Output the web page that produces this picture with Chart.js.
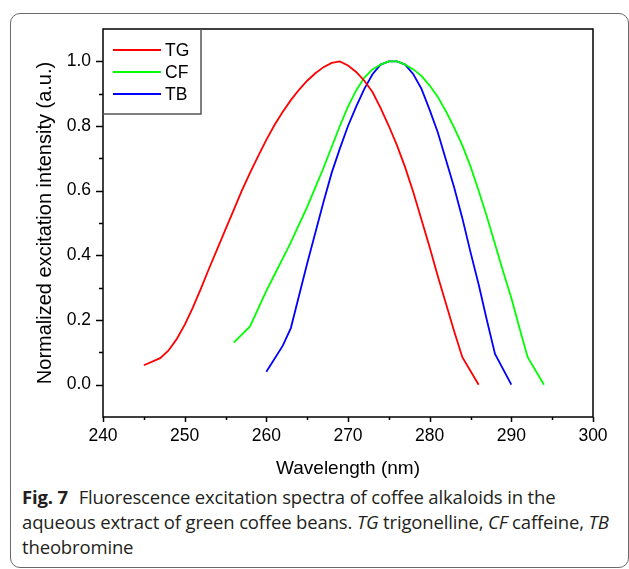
<!DOCTYPE html>
<html>
<head>
<meta charset="utf-8">
<script src="https://cdn.jsdelivr.net/npm/chart.js@4/dist/chart.umd.min.js"></script>
<style>
  body { margin: 0; background: #fff; width: 629px; height: 569px; overflow: hidden; position: relative; }
  #frame { position: absolute; left: 10px; top: 13px; width: 617px; height: 553px;
           border: 1.3px solid #6a6a6a; border-radius: 10px; }
  #chartBox { position: absolute; left: 0; top: 0; }
  #caption { position: absolute; left: 22px; top: 484px; width: 620px;
             font-family: "Open Sans", "Noto Sans", sans-serif; font-size: 18.5px;
             line-height: 25px; color: #231f20; letter-spacing: -0.15px; white-space: nowrap; }
  #caption b { font-weight: 700; margin-right: 6px; }
</style>
</head>
<body>
<div id="frame"></div>
<canvas id="chartBox" width="629" height="480"></canvas>
<div id="caption"><b>Fig. 7</b> Fluorescence excitation spectra of coffee alkaloids in the<br>aqueous extract of green coffee beans. <i>TG</i> trigonelline, <i>CF</i> caffeine, <i>TB</i><br>theobromine</div>

<script>
//############################
//######    Data     ########
//############################

const seriesNames = ["TG", "CF", "TB"];
const seriesColors = ["#ff0000", "#00ff00", "#0000ff"];

// trigonelline
const tgWave = [245, 247, 248, 249, 250, 251, 252, 253, 254, 255, 256, 257, 258, 259, 260,
  261, 262, 263, 264, 265, 266, 267, 268, 269, 270, 271, 272, 273, 274, 275, 276, 277,
  278, 279, 280, 281, 282, 283, 284, 286];
const tgInt = [0.06, 0.082, 0.105, 0.14, 0.185, 0.238, 0.298, 0.36, 0.42, 0.48, 0.54,
  0.60, 0.655, 0.707, 0.757, 0.803, 0.843, 0.88, 0.912, 0.94, 0.963, 0.982, 0.995, 1.0,
  0.987, 0.967, 0.94, 0.905, 0.855, 0.80, 0.74, 0.672, 0.595, 0.51, 0.425, 0.335, 0.25,
  0.165, 0.085, 0.0];

// caffeine
const cfWave = [256, 258, 259, 260, 261, 262, 263, 264, 265, 266, 267, 268, 269, 270, 271,
  272, 273, 274, 275, 276, 277, 278, 279, 280, 281, 282, 283, 284, 285, 286, 287, 288,
  289, 290, 291, 292, 294];
const cfInt = [0.13, 0.18, 0.235, 0.29, 0.34, 0.39, 0.44, 0.495, 0.55, 0.61, 0.67, 0.735,
  0.80, 0.86, 0.91, 0.95, 0.975, 0.99, 1.0, 1.0, 0.99, 0.975, 0.955, 0.925, 0.89, 0.845,
  0.795, 0.74, 0.675, 0.60, 0.52, 0.435, 0.35, 0.268, 0.175, 0.085, 0.0];

// theobromine
const tbWave = [260, 262, 263, 264, 265, 266, 267, 268, 269, 270, 271, 272, 273, 274, 275,
  276, 277, 278, 279, 280, 281, 282, 283, 284, 285, 286, 287, 288, 290];
const tbInt = [0.04, 0.12, 0.175, 0.275, 0.375, 0.47, 0.565, 0.655, 0.73, 0.80, 0.86,
  0.915, 0.96, 0.99, 1.0, 1.0, 0.99, 0.96, 0.915, 0.85, 0.78, 0.695, 0.61, 0.515, 0.41,
  0.31, 0.2, 0.095, 0.0];

const xTicks = [240, 250, 260, 270, 280, 290, 300];
const yTicks = [0.0, 0.2, 0.4, 0.6, 0.8, 1.0];

const fontFam = '"Liberation Sans", Arial, sans-serif';

function toPoints(xs, ys) {
  return xs.map(function (x, i) { return { x: x, y: ys[i] }; });
}

const allWaves = [tgWave, cfWave, tbWave];
const allInts = [tgInt, cfInt, tbInt];

const datasets = seriesNames.map(function (name, i) {
  return {
    label: name,
    data: toPoints(allWaves[i], allInts[i]),
    borderColor: seriesColors[i],
    backgroundColor: seriesColors[i],
    borderWidth: 1.8,
    pointRadius: 0,
    tension: 0,
    fill: false
  };
});

//############################
//######   Plugins   ########
//############################

// frame round the plot + Origin style major/minor ticks
const frameTicks = {
  id: "frameTicks",
  afterDraw: function (chart) {
    const ctx = chart.ctx;
    const a = chart.chartArea;
    const xs = chart.scales.x, ys = chart.scales.y;
    ctx.save();
    ctx.strokeStyle = "#000";
    ctx.lineWidth = 1.5;
    ctx.strokeRect(a.left, a.top, a.right - a.left, a.bottom - a.top);
    ctx.beginPath();
    for (let i = 0; i <= 12; i++) {
      const px = Math.round(xs.getPixelForValue(240 + i * 5)) + 0.5;
      const len = i % 2 === 0 ? 5 : 3;
      ctx.moveTo(px, a.bottom);
      ctx.lineTo(px, a.bottom + len);
    }
    for (let i = 0; i <= 10; i++) {
      const py = Math.round(ys.getPixelForValue(i / 10)) + 0.5;
      const len = i % 2 === 0 ? 7 : 4;
      ctx.moveTo(a.left, py);
      ctx.lineTo(a.left - len, py);
    }
    ctx.stroke();
    ctx.restore();
  }
};

// legend box in the upper left corner of the plot
const cornerLegend = {
  id: "cornerLegend",
  afterDraw: function (chart) {
    const ctx = chart.ctx;
    const a = chart.chartArea;
    ctx.save();
    ctx.strokeStyle = "#555";
    ctx.lineWidth = 1.5;
    ctx.beginPath();
    ctx.moveTo(a.left + 98, a.top);
    ctx.lineTo(a.left + 98, a.top + 85);
    ctx.lineTo(a.left, a.top + 85);
    ctx.stroke();
    ctx.font = "17.5px " + fontFam;
    ctx.textBaseline = "middle";
    ctx.fillStyle = "#000";
    chart.data.datasets.forEach(function (ds, i) {
      const y = a.top + 21 + i * 22;
      ctx.strokeStyle = ds.borderColor;
      ctx.lineWidth = 1.8;
      ctx.beginPath();
      ctx.moveTo(a.left + 10, y);
      ctx.lineTo(a.left + 58, y);
      ctx.stroke();
      ctx.fillText(ds.label, a.left + 62, y + 1);
    });
    ctx.restore();
  }
};

//############################
//######    Chart    ########
//############################

const config = {
  type: "line",
  data: { datasets: datasets },
  options: {
    responsive: false,
    animation: false,
    devicePixelRatio: 1,
    layout: { padding: { left: 30, top: 29, right: 36, bottom: 0 } },
    plugins: { legend: { display: false }, tooltip: { enabled: false } },
    scales: {
      x: {
        type: "linear",
        min: 240,
        max: 300,
        afterBuildTicks: function (s) { s.ticks = xTicks.map(function (v) { return { value: v }; }); },
        afterFit: function (s) { s.height = 63; },
        grid: { drawOnChartArea: false, drawTicks: false },
        border: { display: false },
        ticks: { color: "#000", font: { family: fontFam, size: 17.5 }, padding: 9, maxRotation: 0 },
        title: { display: true, text: "Wavelength (nm)", color: "#000",
                 font: { family: fontFam, size: 19 }, padding: { top: 5, bottom: 0 } }
      },
      y: {
        type: "linear",
        min: -0.1,
        max: 1.1,
        afterBuildTicks: function (s) { s.ticks = yTicks.map(function (v) { return { value: v }; }); },
        afterFit: function (s) { s.width = 73; },
        grid: { drawOnChartArea: false, drawTicks: false },
        border: { display: false },
        ticks: { color: "#000", font: { family: fontFam, size: 17.5 }, padding: 12,
                 callback: function (v) { return Number(v).toFixed(1); } },
        title: { display: true, text: "Normalized excitation intensity (a.u.)", color: "#000",
                 font: { family: fontFam, size: 20 }, padding: { top: 3, bottom: 0 } }
      }
    }
  },
  plugins: [frameTicks, cornerLegend]
};

const myChart = new Chart(document.getElementById("chartBox"), config);
</script>
</body>
</html>
